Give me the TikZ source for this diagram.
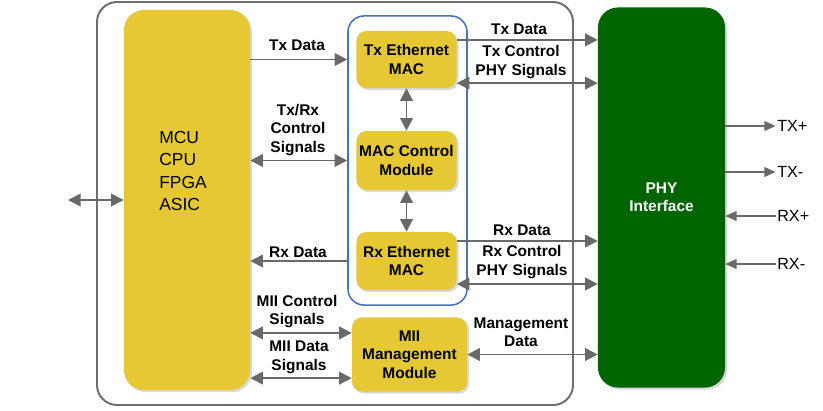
\documentclass[tikz,border=0pt]{standalone}
\usepackage{fontspec}
\setmainfont{Liberation Sans}
\usetikzlibrary{arrows.meta,shadows}

\definecolor{blockyellow}{RGB}{229,200,52}
\definecolor{phygreen}{RGB}{0,100,0}
\definecolor{arrowgray}{RGB}{105,105,105}
\definecolor{framegray}{RGB}{110,110,110}
\definecolor{macblue}{RGB}{70,115,190}

\begin{document}
\begin{tikzpicture}[x=0.025cm, y=-0.025cm,
  >={Triangle[length=9pt,width=9pt]},
  block/.style={fill=blockyellow, rounded corners=0.25cm, inner sep=0pt, align=center,
    font=\fontsize{11}{13.1}\selectfont\bfseries,
    drop shadow={shadow xshift=1.5pt, shadow yshift=-1.5pt, fill=black!25, opacity=0.6}},
  sig/.style={draw=arrowgray, line width=1.4pt},
  lab/.style={align=center, inner sep=0pt, font=\fontsize{11}{13.1}\selectfont\bfseries},
  pinline/.style={draw=arrowgray, line width=1pt, >={Triangle[length=8pt,width=7pt]}},
  pinlab/.style={anchor=west, inner sep=0pt, font=\fontsize{11.5}{14}\selectfont}]
  \useasboundingbox (0,0) rectangle (823,410);

  % outer frame
  \draw[framegray, line width=1.4pt, rounded corners=0.5cm] (97,2) rectangle (573,405);

  % processor
  \node[block, rounded corners=0.5cm, minimum width=3.15cm, minimum height=9.5cm] (mcu) at (187,200) {};
  \node[align=left, inner sep=0pt, anchor=west, font=\fontsize{12.4}{15.9}\selectfont] (mcutxt) at (159,171) {MCU\\CPU\\FPGA\\ASIC};

  % MAC group
  \node[draw=macblue, line width=1.1pt, rounded corners=0.4cm, minimum width=2.975cm, minimum height=7.225cm] (macgroup) at (407.5,160.5) {};
  \node[block, minimum width=2.5cm, minimum height=1.425cm] (txmac) at (406.5,59.5) {Tx Ethernet\\MAC};
  \node[block, minimum width=2.5cm, minimum height=1.475cm] (macctrl) at (406.5,160.5) {MAC Control\\Module};
  \node[block, minimum width=2.5cm, minimum height=1.45cm] (rxmac) at (406.5,261) {Rx Ethernet\\MAC};
  \node[block, minimum width=2.875cm, minimum height=1.85cm] (mii) at (409.5,354.5) {MII\\Management\\Module};

  % PHY
  \node[block, fill=phygreen, text=white, rounded corners=0.5cm, minimum width=3.175cm, minimum height=9.5cm] (phy) at (661.5,197.5) {PHY\\Interface};

  % processor side
  \coordinate (ext) at (68,200);
  \draw[sig, <->] (ext) -- (mcu.west);
  \draw[sig, ->] (mcu.east |- txmac.west) -- (macgroup.west |- txmac.west);
  \draw[sig, <->] (mcu.east |- macctrl.west) -- (macgroup.west |- macctrl.west);
  \draw[sig, ->] (macgroup.west |- rxmac.west) -- (mcu.east |- rxmac.west);
  \coordinate (miictl) at ([yshift=0.54cm]mii.west);
  \coordinate (miidat) at ([yshift=-0.59cm]mii.west);
  \draw[sig, <->] (mcu.east |- miictl) -- (miictl);
  \draw[sig, <->] (mcu.east |- miidat) -- (miidat);

  \node[lab] (ltxd) at (297,45) {Tx Data};
  \node[lab] (lctl) at (298,130) {Tx/Rx\\Control\\Signals};
  \node[lab] (lrxd) at (298,252) {Rx Data};
  \node[lab] (lmiic) at (297,311.5) {MII Control\\Signals};
  \node[lab] (lmiid) at (299,357.5) {MII Data\\Signals};

  % inside MAC group
  \draw[sig, <->] (txmac.south) -- (macctrl.north);
  \draw[sig, <->] (macctrl.south) -- (rxmac.north);

  % PHY side
  \coordinate (txd) at ([yshift=0.49cm]txmac.east);
  \coordinate (txc) at ([yshift=-0.59cm]txmac.east);
  \coordinate (rxd) at ([yshift=0.5cm]rxmac.east);
  \coordinate (rxc) at ([yshift=-0.575cm]rxmac.east);
  \draw[sig, ->] (txd) -- (txd -| phy.west);
  \draw[sig, <->] (txc) -- (txc -| phy.west);
  \draw[sig, ->] (rxd) -- (rxd -| phy.west);
  \draw[sig, <->] (rxc) -- (rxc -| phy.west);
  \draw[sig, <->] (mii.east) -- (mii.east -| phy.west);

  \node[lab] (rtxd) at (519,29) {Tx Data};
  \node[lab] (rtxc) at (521,62) {Tx Control\\PHY Signals};
  \node[lab] (rrxd) at (522,230) {Rx Data};
  \node[lab] (rrxc) at (522,262) {Rx Control\\PHY Signals};
  \node[lab] (rmgt) at (521,332) {Management\\Data};

  % line pins
  \node[pinlab] (txp) at (777,126) {TX+};
  \node[pinlab] (txm) at (777,172) {TX-};
  \node[pinlab] (rxp) at (777,216) {RX+};
  \node[pinlab] (rxm) at (777,264) {RX-};
  \draw[pinline, ->] (phy.east |- txp.west) -- ([xshift=-1pt]txp.west);
  \draw[pinline, ->] (phy.east |- txm.west) -- ([xshift=-1pt]txm.west);
  \draw[pinline, ->] ([xshift=-1pt]rxp.west) -- (phy.east |- rxp.west);
  \draw[pinline, ->] ([xshift=-1pt]rxm.west) -- (phy.east |- rxm.west);
\end{tikzpicture}
\end{document}
